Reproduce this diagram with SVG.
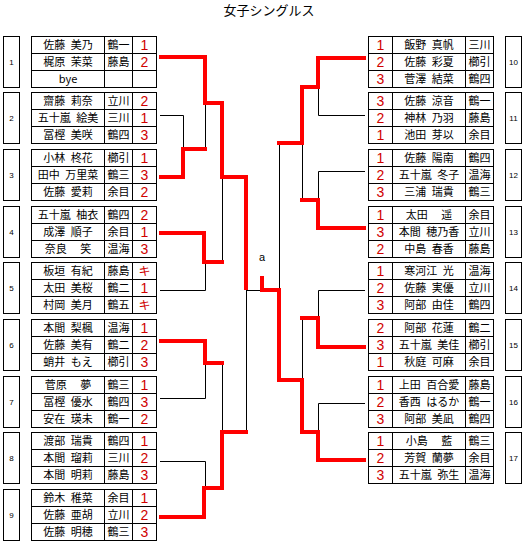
<svg xmlns="http://www.w3.org/2000/svg" xmlns:xlink="http://www.w3.org/1999/xlink" width="525" height="542" viewBox="0 0 525 542">
<style>
text{font-family:"Noto Sans CJK JP","Liberation Sans",sans-serif;fill:#000}
.nm{font-size:11px;text-anchor:middle}
.rk{font-family:"Liberation Sans Narrow","Liberation Sans",sans-serif;font-size:14px;text-anchor:middle;fill:#d00000}
.kk{font-family:"Noto Sans CJK JP",sans-serif;font-size:12px;text-anchor:middle;fill:#d00000}
.gn{font-family:"Liberation Sans",sans-serif;font-size:8px;text-anchor:middle}
.ttl{font-size:13px;text-anchor:middle}
.fr{fill:#fff;stroke:#000;stroke-width:1}
.fl{fill:none;stroke:#000;stroke-width:1}
.bk{fill:none;stroke:#000;stroke-width:1}
.rd{fill:none;stroke:#ff0000;stroke-width:4;stroke-linejoin:miter}
</style>
<defs>
<g id="frameL">
<rect class="fr" x="3.5" y="0" width="16" height="51"/>
<rect class="fr" x="31.5" y="0" width="125" height="51"/>
<path class="fl" d="M31.5,17H156.5M31.5,34H156.5M104.5,0V51M132.5,0V51"/>
</g>
<g id="frameR">
<rect class="fr" x="505.5" y="0" width="16" height="51"/>
<rect class="fr" x="368.5" y="0" width="125" height="51"/>
<path class="fl" d="M368.5,17H493.5M368.5,34H493.5M392.5,0V51M465.5,0V51"/>
</g>
</defs>
<rect width="525" height="542" fill="#fff"/>
<text class="ttl" x="269" y="15">女子シングルス</text>

<g id="connectors">
<path class="bk" d="M160,115.5H183.5V149M205.5,103V149M222.5,177V262M160,290.5H205.5V262M160,398.5H205.5V363M222.5,363V432M160,461.5H205.5V488M246.5,290V432M246,290.5H262"/>
<path class="bk" d="M365,115.5H318.5V87M302.5,143V200M365,171.5H318.5V200M279.5,143V290M365,290.5H318.5V318M302.5,318V380M365,403.5H318.5V432"/>
<path class="rd" d="M159,57H205V103H222V177H246V290"/>
<path class="rd" d="M159,177H183V149H207"/>
<path class="rd" d="M159,233H204V262H224"/>
<path class="rd" d="M159,341H205V363H224"/>
<path class="rd" d="M159,517H204V488H222V432H248"/>
<path class="rd" d="M366,58H318V87H302V143H277"/>
<path class="rd" d="M366,228H318V200H300"/>
<path class="rd" d="M366,347H318V318H300"/>
<path class="rd" d="M366,460H318V432H302V380H279V290H262V276"/>
<text x="262" y="261" style="font-family:'Liberation Sans',sans-serif;font-size:11px;text-anchor:middle">a</text>
</g>

<g id="group-1" transform="translate(0,36.5)">
<use xlink:href="#frameL"/>
<text class="gn" x="11.5" y="28.5">1</text>
<text class="nm" x="68" y="12.5">佐藤&#8194;美乃</text><text class="nm" x="118.5" y="12.5">鶴一</text><text class="rk" x="144.5" y="13">1</text>
<text class="nm" x="68" y="29.5">梶原&#8194;茉菜</text><text class="nm" x="118.5" y="29.5">藤島</text><text class="rk" x="144.5" y="30">2</text>
<text class="nm" x="68" y="46.5">bye</text>
</g>
<g id="group-2" transform="translate(0,92.5)">
<use xlink:href="#frameL"/>
<text class="gn" x="11.5" y="28.5">2</text>
<text class="nm" x="68" y="12.5">齋藤&#8194;莉奈</text><text class="nm" x="118.5" y="12.5">立川</text><text class="rk" x="144.5" y="13">2</text>
<text class="nm" x="68" y="29.5">五十嵐&#8194;絵美</text><text class="nm" x="118.5" y="29.5">三川</text><text class="rk" x="144.5" y="30">1</text>
<text class="nm" x="68" y="46.5">冨樫&#8194;美咲</text><text class="nm" x="118.5" y="46.5">鶴四</text><text class="rk" x="144.5" y="47">3</text>
</g>
<g id="group-3" transform="translate(0,149.5)">
<use xlink:href="#frameL"/>
<text class="gn" x="11.5" y="28.5">3</text>
<text class="nm" x="68" y="12.5">小林&#8194;柊花</text><text class="nm" x="118.5" y="12.5">櫛引</text><text class="rk" x="144.5" y="13">1</text>
<text class="nm" x="68" y="29.5">田中&#8194;万里菜</text><text class="nm" x="118.5" y="29.5">鶴三</text><text class="rk" x="144.5" y="30">3</text>
<text class="nm" x="68" y="46.5">佐藤&#8194;愛莉</text><text class="nm" x="118.5" y="46.5">余目</text><text class="rk" x="144.5" y="47">2</text>
</g>
<g id="group-4" transform="translate(0,206.5)">
<use xlink:href="#frameL"/>
<text class="gn" x="11.5" y="28.5">4</text>
<text class="nm" x="68" y="12.5">五十嵐&#8194;柚衣</text><text class="nm" x="118.5" y="12.5">鶴四</text><text class="rk" x="144.5" y="13">2</text>
<text class="nm" x="68" y="29.5">成澤&#8194;順子</text><text class="nm" x="118.5" y="29.5">余目</text><text class="rk" x="144.5" y="30">1</text>
<text class="nm" x="68" y="46.5">奈良　 笑</text><text class="nm" x="118.5" y="46.5">温海</text><text class="rk" x="144.5" y="47">3</text>
</g>
<g id="group-5" transform="translate(0,262.5)">
<use xlink:href="#frameL"/>
<text class="gn" x="11.5" y="28.5">5</text>
<text class="nm" x="68" y="12.5">板垣&#8194;有紀</text><text class="nm" x="118.5" y="12.5">藤島</text><text class="kk" x="144.5" y="13">キ</text>
<text class="nm" x="68" y="29.5">太田&#8194;美桜</text><text class="nm" x="118.5" y="29.5">鶴二</text><text class="rk" x="144.5" y="30">1</text>
<text class="nm" x="68" y="46.5">村岡&#8194;美月</text><text class="nm" x="118.5" y="46.5">鶴五</text><text class="kk" x="144.5" y="47">キ</text>
</g>
<g id="group-6" transform="translate(0,319.5)">
<use xlink:href="#frameL"/>
<text class="gn" x="11.5" y="28.5">6</text>
<text class="nm" x="68" y="12.5">本間&#8194;梨楓</text><text class="nm" x="118.5" y="12.5">温海</text><text class="rk" x="144.5" y="13">1</text>
<text class="nm" x="68" y="29.5">佐藤&#8194;美有</text><text class="nm" x="118.5" y="29.5">鶴二</text><text class="rk" x="144.5" y="30">2</text>
<text class="nm" x="68" y="46.5">蛸井&#8194;もえ</text><text class="nm" x="118.5" y="46.5">櫛引</text><text class="rk" x="144.5" y="47">3</text>
</g>
<g id="group-7" transform="translate(0,376.5)">
<use xlink:href="#frameL"/>
<text class="gn" x="11.5" y="28.5">7</text>
<text class="nm" x="68" y="12.5">菅原　 夢</text><text class="nm" x="118.5" y="12.5">鶴三</text><text class="rk" x="144.5" y="13">1</text>
<text class="nm" x="68" y="29.5">冨樫&#8194;優水</text><text class="nm" x="118.5" y="29.5">鶴四</text><text class="rk" x="144.5" y="30">3</text>
<text class="nm" x="68" y="46.5">安在&#8194;瑛未</text><text class="nm" x="118.5" y="46.5">鶴一</text><text class="rk" x="144.5" y="47">2</text>
</g>
<g id="group-8" transform="translate(0,432.5)">
<use xlink:href="#frameL"/>
<text class="gn" x="11.5" y="28.5">8</text>
<text class="nm" x="68" y="12.5">渡部&#8194;瑞貴</text><text class="nm" x="118.5" y="12.5">鶴四</text><text class="rk" x="144.5" y="13">1</text>
<text class="nm" x="68" y="29.5">本間&#8194;瑠莉</text><text class="nm" x="118.5" y="29.5">三川</text><text class="rk" x="144.5" y="30">2</text>
<text class="nm" x="68" y="46.5">本間&#8194;明莉</text><text class="nm" x="118.5" y="46.5">藤島</text><text class="rk" x="144.5" y="47">3</text>
</g>
<g id="group-9" transform="translate(0,489.5)">
<use xlink:href="#frameL"/>
<text class="gn" x="11.5" y="28.5">9</text>
<text class="nm" x="68" y="12.5">鈴木&#8194;稚菜</text><text class="nm" x="118.5" y="12.5">余目</text><text class="rk" x="144.5" y="13">1</text>
<text class="nm" x="68" y="29.5">佐藤&#8194;亜胡</text><text class="nm" x="118.5" y="29.5">立川</text><text class="rk" x="144.5" y="30">2</text>
<text class="nm" x="68" y="46.5">佐藤&#8194;明穂</text><text class="nm" x="118.5" y="46.5">鶴三</text><text class="rk" x="144.5" y="47">3</text>
</g>

<g id="group-10" transform="translate(0,36.5)">
<use xlink:href="#frameR"/>
<text class="gn" x="513.5" y="28.5">10</text>
<text class="rk" x="380.5" y="13">1</text><text class="nm" x="429" y="12.5">飯野&#8194;真帆</text><text class="nm" x="479.5" y="12.5">三川</text>
<text class="rk" x="380.5" y="30">2</text><text class="nm" x="429" y="29.5">佐藤&#8194;彩夏</text><text class="nm" x="479.5" y="29.5">櫛引</text>
<text class="rk" x="380.5" y="47">3</text><text class="nm" x="429" y="46.5">菅澤&#8194;結菜</text><text class="nm" x="479.5" y="46.5">鶴四</text>
</g>
<g id="group-11" transform="translate(0,92.5)">
<use xlink:href="#frameR"/>
<text class="gn" x="513.5" y="28.5">11</text>
<text class="rk" x="380.5" y="13">3</text><text class="nm" x="429" y="12.5">佐藤&#8194;涼音</text><text class="nm" x="479.5" y="12.5">鶴一</text>
<text class="rk" x="380.5" y="30">2</text><text class="nm" x="429" y="29.5">神林&#8194;乃羽</text><text class="nm" x="479.5" y="29.5">藤島</text>
<text class="rk" x="380.5" y="47">1</text><text class="nm" x="429" y="46.5">池田&#8194;芽以</text><text class="nm" x="479.5" y="46.5">余目</text>
</g>
<g id="group-12" transform="translate(0,149.5)">
<use xlink:href="#frameR"/>
<text class="gn" x="513.5" y="28.5">12</text>
<text class="rk" x="380.5" y="13">1</text><text class="nm" x="429" y="12.5">佐藤&#8194;陽南</text><text class="nm" x="479.5" y="12.5">鶴四</text>
<text class="rk" x="380.5" y="30">2</text><text class="nm" x="429" y="29.5">五十嵐&#8194;冬子</text><text class="nm" x="479.5" y="29.5">温海</text>
<text class="rk" x="380.5" y="47">3</text><text class="nm" x="429" y="46.5">三浦&#8194;瑞貴</text><text class="nm" x="479.5" y="46.5">鶴三</text>
</g>
<g id="group-13" transform="translate(0,206.5)">
<use xlink:href="#frameR"/>
<text class="gn" x="513.5" y="28.5">13</text>
<text class="rk" x="380.5" y="13">1</text><text class="nm" x="429" y="12.5">太田　 遥</text><text class="nm" x="479.5" y="12.5">余目</text>
<text class="rk" x="380.5" y="30">3</text><text class="nm" x="429" y="29.5">本間&#8194;穂乃香</text><text class="nm" x="479.5" y="29.5">立川</text>
<text class="rk" x="380.5" y="47">2</text><text class="nm" x="429" y="46.5">中島&#8194;春香</text><text class="nm" x="479.5" y="46.5">藤島</text>
</g>
<g id="group-14" transform="translate(0,262.5)">
<use xlink:href="#frameR"/>
<text class="gn" x="513.5" y="28.5">14</text>
<text class="rk" x="380.5" y="13">1</text><text class="nm" x="429" y="12.5">寒河江&#8194;光</text><text class="nm" x="479.5" y="12.5">温海</text>
<text class="rk" x="380.5" y="30">2</text><text class="nm" x="429" y="29.5">佐藤&#8194;実優</text><text class="nm" x="479.5" y="29.5">立川</text>
<text class="rk" x="380.5" y="47">3</text><text class="nm" x="429" y="46.5">阿部&#8194;由佳</text><text class="nm" x="479.5" y="46.5">鶴四</text>
</g>
<g id="group-15" transform="translate(0,319.5)">
<use xlink:href="#frameR"/>
<text class="gn" x="513.5" y="28.5">15</text>
<text class="rk" x="380.5" y="13">2</text><text class="nm" x="429" y="12.5">阿部&#8194;花蓮</text><text class="nm" x="479.5" y="12.5">鶴二</text>
<text class="rk" x="380.5" y="30">3</text><text class="nm" x="429" y="29.5">五十嵐&#8194;美佳</text><text class="nm" x="479.5" y="29.5">櫛引</text>
<text class="rk" x="380.5" y="47">1</text><text class="nm" x="429" y="46.5">秋庭&#8194;可麻</text><text class="nm" x="479.5" y="46.5">余目</text>
</g>
<g id="group-16" transform="translate(0,376.5)">
<use xlink:href="#frameR"/>
<text class="gn" x="513.5" y="28.5">16</text>
<text class="rk" x="380.5" y="13">1</text><text class="nm" x="429" y="12.5">上田&#8194;百合愛</text><text class="nm" x="479.5" y="12.5">藤島</text>
<text class="rk" x="380.5" y="30">2</text><text class="nm" x="429" y="29.5">香西&#8194;はるか</text><text class="nm" x="479.5" y="29.5">鶴一</text>
<text class="rk" x="380.5" y="47">3</text><text class="nm" x="429" y="46.5">阿部&#8194;美凪</text><text class="nm" x="479.5" y="46.5">鶴四</text>
</g>
<g id="group-17" transform="translate(0,432.5)">
<use xlink:href="#frameR"/>
<text class="gn" x="513.5" y="28.5">17</text>
<text class="rk" x="380.5" y="13">1</text><text class="nm" x="429" y="12.5">小島　 藍</text><text class="nm" x="479.5" y="12.5">鶴三</text>
<text class="rk" x="380.5" y="30">2</text><text class="nm" x="429" y="29.5">芳賀&#8194;蘭夢</text><text class="nm" x="479.5" y="29.5">余目</text>
<text class="rk" x="380.5" y="47">3</text><text class="nm" x="429" y="46.5">五十嵐&#8194;弥生</text><text class="nm" x="479.5" y="46.5">温海</text>
</g>
</svg>
